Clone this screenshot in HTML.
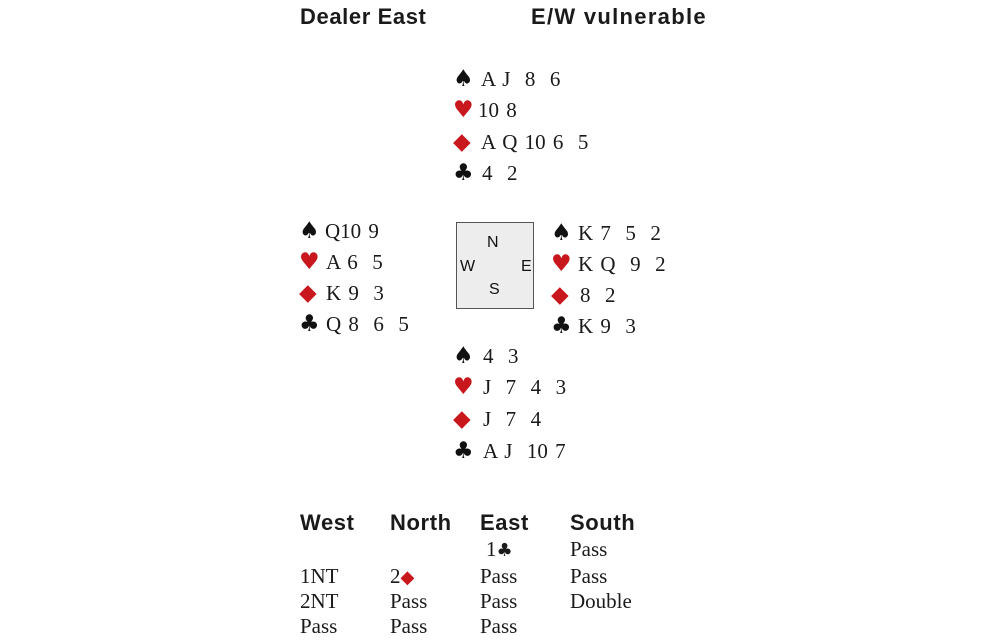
<!DOCTYPE html>
<html><head><style>
body{margin:0;width:1000px;height:642px;background:#fff;position:relative;overflow:hidden}
.h{position:absolute;font-family:"Liberation Sans",sans-serif;font-weight:bold;font-size:22px;letter-spacing:0.6px;color:#1a1a1a;line-height:24px}
.r{position:absolute;font-family:"Liberation Serif",serif;font-size:21px;word-spacing:2px;color:#1a1a1a;line-height:24px;white-space:pre}
.s{position:absolute;font-family:"DejaVu Sans",sans-serif;font-size:23px;line-height:24px;color:#111}
.red{color:#c8171d}
.box{position:absolute;left:456px;top:222px;width:78px;height:87px;background:#ededed;border:1.5px solid #555;box-sizing:border-box}
.c{position:absolute;font-family:"Liberation Sans",sans-serif;font-size:16px;color:#111;line-height:18px}
</style></head><body>
<div class="h" style="left:300px;top:5px">Dealer East</div>
<div class="h" style="left:531px;top:5px;letter-spacing:1.3px">E/W vulnerable</div>

<div class="s" style="left:453px;top:67px">♠</div><div class="r" style="left:481px;top:67px">A J  8  6</div>
<div class="s red" style="left:453px;top:98px">♥</div><div class="r" style="left:478px;top:98px">10 8</div>
<div class="s red" style="left:453px;top:130px">◆</div><div class="r" style="left:481px;top:130px">A Q 10 6  5</div>
<div class="s" style="left:453px;top:161px">♣</div><div class="r" style="left:482px;top:161px">4  2</div>

<div class="s" style="left:299px;top:219px">♠</div><div class="r" style="left:325px;top:219px">Q10 9</div>
<div class="s red" style="left:299px;top:250px">♥</div><div class="r" style="left:326px;top:250px">A 6  5</div>
<div class="s red" style="left:299px;top:281px">◆</div><div class="r" style="left:326px;top:281px">K 9  3</div>
<div class="s" style="left:299px;top:312px">♣</div><div class="r" style="left:326px;top:312px">Q 8  6  5</div>

<div class="box"></div>
<div class="c" style="left:487px;top:234px">N</div>
<div class="c" style="left:460px;top:258px">W</div>
<div class="c" style="left:521px;top:258px">E</div>
<div class="c" style="left:489px;top:281px">S</div>

<div class="s" style="left:551px;top:221px">♠</div><div class="r" style="left:578px;top:221px">K 7  5  2</div>
<div class="s red" style="left:551px;top:252px">♥</div><div class="r" style="left:578px;top:252px">K Q  9  2</div>
<div class="s red" style="left:551px;top:283px">◆</div><div class="r" style="left:580px;top:283px">8  2</div>
<div class="s" style="left:551px;top:314px">♣</div><div class="r" style="left:578px;top:314px">K 9  3</div>

<div class="s" style="left:453px;top:344px">♠</div><div class="r" style="left:483px;top:344px">4  3</div>
<div class="s red" style="left:453px;top:375px">♥</div><div class="r" style="left:483px;top:375px">J  7  4  3</div>
<div class="s red" style="left:453px;top:407px">◆</div><div class="r" style="left:483px;top:407px">J  7  4</div>
<div class="s" style="left:453px;top:439px">♣</div><div class="r" style="left:483px;top:439px">A J  10 7</div>

<div class="h" style="left:300px;top:511px">West</div>
<div class="h" style="left:390px;top:511px">North</div>
<div class="h" style="left:480px;top:511px">East</div>
<div class="h" style="left:570px;top:511px">South</div>

<div class="r" style="left:486px;top:537px">1<span style="font-family:'DejaVu Sans';font-size:18px">♣</span></div>
<div class="r" style="left:570px;top:537px">Pass</div>
<div class="r" style="left:300px;top:564px">1NT</div>
<div class="r" style="left:390px;top:564px">2<span class="red" style="font-family:'DejaVu Sans';font-size:18px">◆</span></div>
<div class="r" style="left:480px;top:564px">Pass</div>
<div class="r" style="left:570px;top:564px">Pass</div>
<div class="r" style="left:300px;top:589px">2NT</div>
<div class="r" style="left:390px;top:589px">Pass</div>
<div class="r" style="left:480px;top:589px">Pass</div>
<div class="r" style="left:570px;top:589px">Double</div>
<div class="r" style="left:300px;top:614px">Pass</div>
<div class="r" style="left:390px;top:614px">Pass</div>
<div class="r" style="left:480px;top:614px">Pass</div>
</body></html>
